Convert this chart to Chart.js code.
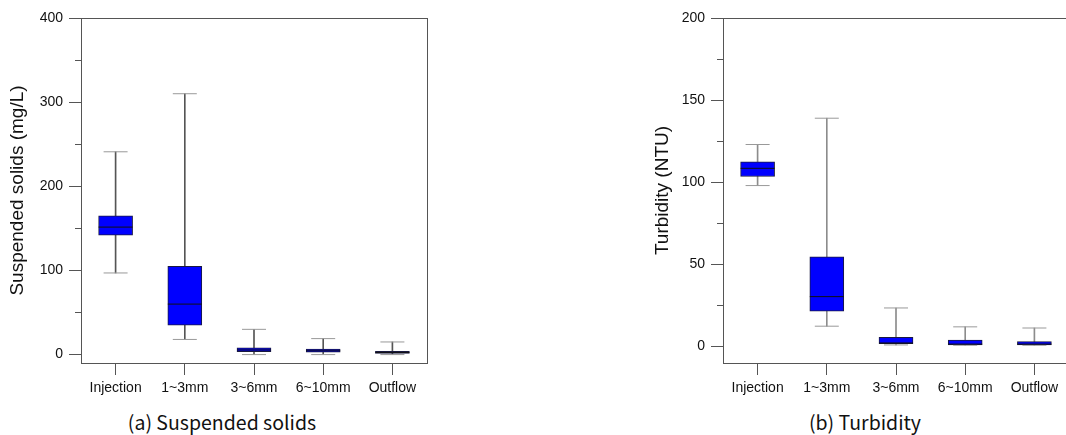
<!DOCTYPE html>
<html>
<head>
<meta charset="utf-8">
<script src="https://cdn.jsdelivr.net/npm/chart.js@4/dist/chart.umd.min.js"></script>
<style>
  html, body { margin: 0; padding: 0; background: #fff; width: 1066px; height: 435px; overflow: hidden; }
  #wrap { position: relative; width: 1066px; height: 435px; overflow: hidden; }
  canvas { position: absolute; top: 0; }
  .caption {
    position: absolute; top: 407px; width: 300px; text-align: center;
    font-family: "Noto Sans CJK KR", "Noto Sans", sans-serif; font-size: 19.5px; font-weight: 400; color: #111;
  }
</style>
</head>
<body>
<div id="wrap">
  <canvas id="ss" width="445" height="400" style="left:0px"></canvas>
  <canvas id="turb" width="445" height="400" style="left:642px"></canvas>
  <div class="caption" style="left:72px">(a) Suspended solids</div>
  <div class="caption" style="left:715px">(b) Turbidity</div>
</div>
<script>
// categories shared by both panels
const categories = ['Injection', '1~3mm', '3~6mm', '6~10mm', 'Outflow'];

// (a) suspended solids, mg/L
const ssMin    = [97, 18, 0, 0, 0];
const ssQ1     = [142, 35, 3.5, 3, 1.5];
const ssMedian = [151.5, 60, 5.5, 4.5, 2.5];
const ssQ3     = [165, 105, 8, 6.5, 4];
const ssMax    = [241, 310, 30, 19, 15];
const ssTicks      = [0, 100, 200, 300, 400];
const ssMinorTicks = [0, 50, 100, 150, 200, 250, 300, 350, 400];

// (b) turbidity, NTU
const turbMin    = [98, 12.4, 1, 0.8, 0.8];
const turbQ1     = [103.5, 21.6, 1.8, 1, 1];
const turbMedian = [108.5, 30.4, 2.2, 1.5, 1.5];
const turbQ3     = [112.5, 54.7, 5.6, 4, 3];
const turbMax    = [123, 139, 23.5, 12, 11.3];
const turbTicks      = [0, 50, 100, 150, 200];
const turbMinorTicks = [0, 25, 50, 75, 100, 125, 150, 175, 200];

const tickFont = { family: "'Liberation Sans', Arial, sans-serif", size: 14 };
const titleFont = { family: "'Liberation Sans', Arial, sans-serif", size: 19 };
const axisColor = '#555';

function boxChart(canvasId, mins, q1s, medians, q3s, maxs, majorTicks, minorTicks, yTitle, titlePad, stemColor) {
    const pairs = (a, b) => a.map((v, i) => [v, b[i]]);
    const yMax = majorTicks[majorTicks.length - 1];

    const datasets = [
        {
            // whisker stems
            type: 'bar',
            data: pairs(mins, maxs),
            backgroundColor: stemColor,
            barThickness: 1,
            grouped: false,
            order: 4
        },
        {
            // interquartile boxes
            type: 'bar',
            data: pairs(q1s, q3s),
            backgroundColor: '#0000ff',
            borderColor: '#1a1a40',
            borderWidth: 1,
            borderSkipped: false,
            barThickness: 34,
            grouped: false,
            order: 3
        },
        {
            // whisker caps (top)
            type: 'line',
            data: maxs,
            showLine: false,
            pointStyle: 'line',
            pointRadius: 12,
            pointBorderColor: '#999',
            pointBorderWidth: 1,
            order: 2
        },
        {
            // whisker caps (bottom)
            type: 'line',
            data: mins,
            showLine: false,
            pointStyle: 'line',
            pointRadius: 12,
            pointBorderColor: '#999',
            pointBorderWidth: 1,
            order: 2
        },
        {
            // medians
            type: 'line',
            data: medians,
            showLine: false,
            pointStyle: 'line',
            pointRadius: 17,
            pointBorderColor: '#111',
            pointBorderWidth: 1,
            order: 1
        }
    ];

    const hiddenBorderAxis = (position, type) => ({
        type: type,
        position: position,
        min: type === 'linear' ? -10 : undefined,
        max: type === 'linear' ? yMax : undefined,
        ticks: { display: false },
        grid: { drawOnChartArea: false, drawTicks: false },
        border: { display: true, color: axisColor },
        afterFit: s => { if (type === 'linear') s.width = 0; else s.height = 0; }
    });

    return new Chart(document.getElementById(canvasId), {
        type: 'bar',
        data: { labels: categories, datasets },
        options: {
            responsive: false,
            animation: false,
            layout: { padding: { top: 13, right: 13, left: 0, bottom: 0 } },
            plugins: {
                legend: { display: false },
                tooltip: { enabled: false }
            },
            scales: {
                x: {
                    type: 'category',
                    offset: true,
                    grid: { offset: false, drawOnChartArea: false, tickLength: 12, color: axisColor },
                    border: { color: axisColor },
                    ticks: { font: tickFont, color: '#111', padding: 5, maxRotation: 0 },
                    afterFit: s => { s.height = 37; }
                },
                xTop: hiddenBorderAxis('top', 'category'),
                y: {
                    type: 'linear',
                    position: 'left',
                    weight: 1,
                    min: -10,
                    max: yMax,
                    ticks: { font: tickFont, color: '#111', padding: 6 },
                    afterBuildTicks: s => { s.ticks = majorTicks.map(v => ({ value: v })); },
                    grid: { drawOnChartArea: false, tickLength: 12, color: axisColor },
                    border: { color: axisColor },
                    title: { display: true, text: yTitle, font: titleFont, color: '#111', padding: { top: titlePad, bottom: 0 } },
                    afterFit: s => { s.width = 81; }
                },
                yMinor: {
                    type: 'linear',
                    position: 'left',
                    weight: 0,
                    min: -10,
                    max: yMax,
                    ticks: { display: false },
                    afterBuildTicks: s => { s.ticks = minorTicks.map(v => ({ value: v })); },
                    grid: { drawOnChartArea: false, tickLength: 6, color: axisColor },
                    border: { display: false },
                    afterFit: s => { s.width = 0; }
                },
                yRight: hiddenBorderAxis('right', 'linear')
            }
        }
    });
}

boxChart('ss', ssMin, ssQ1, ssMedian, ssQ3, ssMax, ssTicks, ssMinorTicks, 'Suspended solids (mg/L)', 6, '#555');
boxChart('turb', turbMin, turbQ1, turbMedian, turbQ3, turbMax, turbTicks, turbMinorTicks, 'Turbidity (NTU)', 9, '#8c8c8c');
</script>
</body>
</html>
